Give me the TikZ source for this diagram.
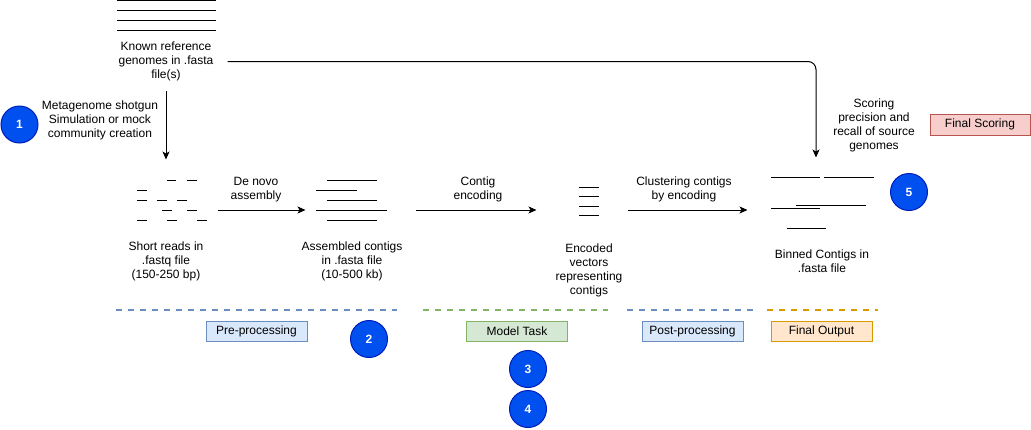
\documentclass[tikz,border=0pt]{standalone}
\usepackage{fontspec}
\setmainfont{Liberation Sans}
\usepackage{tikz}
\usetikzlibrary{arrows.meta}
\usetikzlibrary{positioning}

\definecolor{stepFill}{HTML}{0050EF}
\definecolor{stepLine}{HTML}{001DBC}
\definecolor{preFill}{HTML}{DAE8FC}
\definecolor{preLine}{HTML}{6C8EBF}
\definecolor{modelFill}{HTML}{D5E8D4}
\definecolor{modelLine}{HTML}{82B366}
\definecolor{outFill}{HTML}{FFE6CC}
\definecolor{outLine}{HTML}{D79B00}
\definecolor{scoreFill}{HTML}{F8CECC}
\definecolor{scoreLine}{HTML}{B85450}

\begin{document}
\begin{tikzpicture}[x=1pt, y=-1pt, line width=1pt, >={Stealth[length=8pt, width=7pt, inset=2pt]},
    font=\fontsize{12}{14}\selectfont,
    textStyle/.style={align=center, inner sep=0pt},
    areaStyle/.style={inner sep=0pt},
    stepStyle/.style={circle, draw=stepLine, fill=stepFill, text=white, minimum size=37pt, inner sep=0pt, font=\fontsize{12}{14}\selectfont\bfseries},
    phaseStyle/.style={rectangle, draw=#1Line, fill=#1Fill, minimum width=101pt, minimum height=20pt, inner sep=0pt},
    phaseLine/.style={draw=#1Line, line width=2pt, dash pattern=on 6pt off 6pt}]
	\useasboundingbox (0,0) rectangle (1031,429);

	% Reference genomes
	\draw (117,0.5) -- (216,0.5);
	\draw (117,10) -- (216,10);
	\draw (117,20) -- (216,20);
	\draw (117,30) -- (216,30);
	\node[textStyle, minimum width=122pt, minimum height=58pt] (refText) at (166,61.5) {Known reference\\genomes in .fasta\\file(s)};

	% Short reads
	\node[areaStyle, minimum width=102pt, minimum height=100pt] (reads) at (166,210) {};
	\draw (167,180) -- (176,180) (187,180) -- (197,180);
	\draw (137,190) -- (147,190);
	\draw (137,200) -- (147,200) (157,200) -- (167,200) (177,200) -- (187,200);
	\draw (162,210) -- (172,210) (187,210) -- (197,210);
	\draw (137,220) -- (147,220) (167,220) -- (177,220) (197,220) -- (207,220);
	\node[textStyle] (readsText) at (166,261.5) {Short reads in\\.fastq file\\(150-250 bp)};

	% Assembled contigs
	\node[areaStyle, minimum width=109pt, minimum height=60pt] (contigs) at (360.5,210) {};
	\draw (327,180) -- (377,180);
	\draw (316,190) -- (357,190);
	\draw (327,200) -- (377,200);
	\draw (316,210) -- (387,210);
	\draw (327,220) -- (377,220);
	\node[textStyle] (contigsText) at (352,261.5) {Assembled contigs\\in .fasta file\\(10-500 kb)};

	% Encoded vectors
	\node[areaStyle, minimum width=90pt, minimum height=60pt] (vectors) at (582,210) {};
	\draw (579,187) -- (599,187);
	\draw (579,196.5) -- (599,196.5);
	\draw (579,206) -- (599,206);
	\draw (579,215.5) -- (599,215.5);
	\node[textStyle] (vectorsText) at (589,270.5) {Encoded\\vectors\\representing\\contigs};

	% Binned contigs
	\node[areaStyle, minimum width=136pt, minimum height=104pt] (bins) at (816,210) {};
	\draw (771,177) -- (820,177) (824,177) -- (874,177);
	\draw (796,205) -- (866,205);
	\draw (771,208) -- (820,208);
	\draw (787,228) -- (826,228);
	\node[textStyle] (binsText) at (822,261.5) {Binned Contigs in\\.fasta file};

	% Connectors
	\draw[->] (refText.south) -- (reads.north);
	\draw[->, rounded corners=8pt] (refText.east) -| (bins.north);
	\draw[->] (reads) -- (contigs);
	\draw[->] (contigs) -- (vectors);
	\draw[->] (vectors) -- (bins);

	% Connector labels
	\node[textStyle] (simLabel) at (100,120.5) {Metagenome shotgun\\Simulation or mock\\community creation};
	\node[textStyle] (assemblyLabel) at (256,189.5) {De novo\\assembly};
	\node[textStyle] (encodingLabel) at (478,189.5) {Contig\\encoding};
	\node[textStyle] (clusterLabel) at (684,189.5) {Clustering contigs\\by encoding};
	\node[textStyle] (scoringLabel) at (874,125) {Scoring\\precision and\\recall of source\\genomes};

	% Phases
	\draw[phaseLine=pre] (116,310) -- (397,310);
	\draw[phaseLine=model] (423,310) -- (608,310);
	\draw[phaseLine=pre] (627,310) -- (754,310);
	\draw[phaseLine=out] (767,310) -- (878,310);
	\node[phaseStyle=pre] (preBox) at (256.5,331) {Pre-processing};
	\node[phaseStyle=model] (modelBox) at (517,331) {Model Task};
	\node[phaseStyle=pre] (postBox) at (692.5,331) {Post-processing};
	\node[phaseStyle=out] (outBox) at (821.5,331) {Final Output};
	\node[phaseStyle=score, minimum width=100pt, minimum height=21pt] (scoreBox) at (980,124.5) {Final Scoring};

	% Steps
	\node[stepStyle] (step1) at (19.5,124.5) {1};
	\node[stepStyle] (step2) at (369,339) {2};
	\node[stepStyle] (step3) at (528,369) {3};
	\node[stepStyle] (step4) at (528,409) {4};
	\node[stepStyle] (step5) at (909,192) {5};

\end{tikzpicture}
\end{document}
